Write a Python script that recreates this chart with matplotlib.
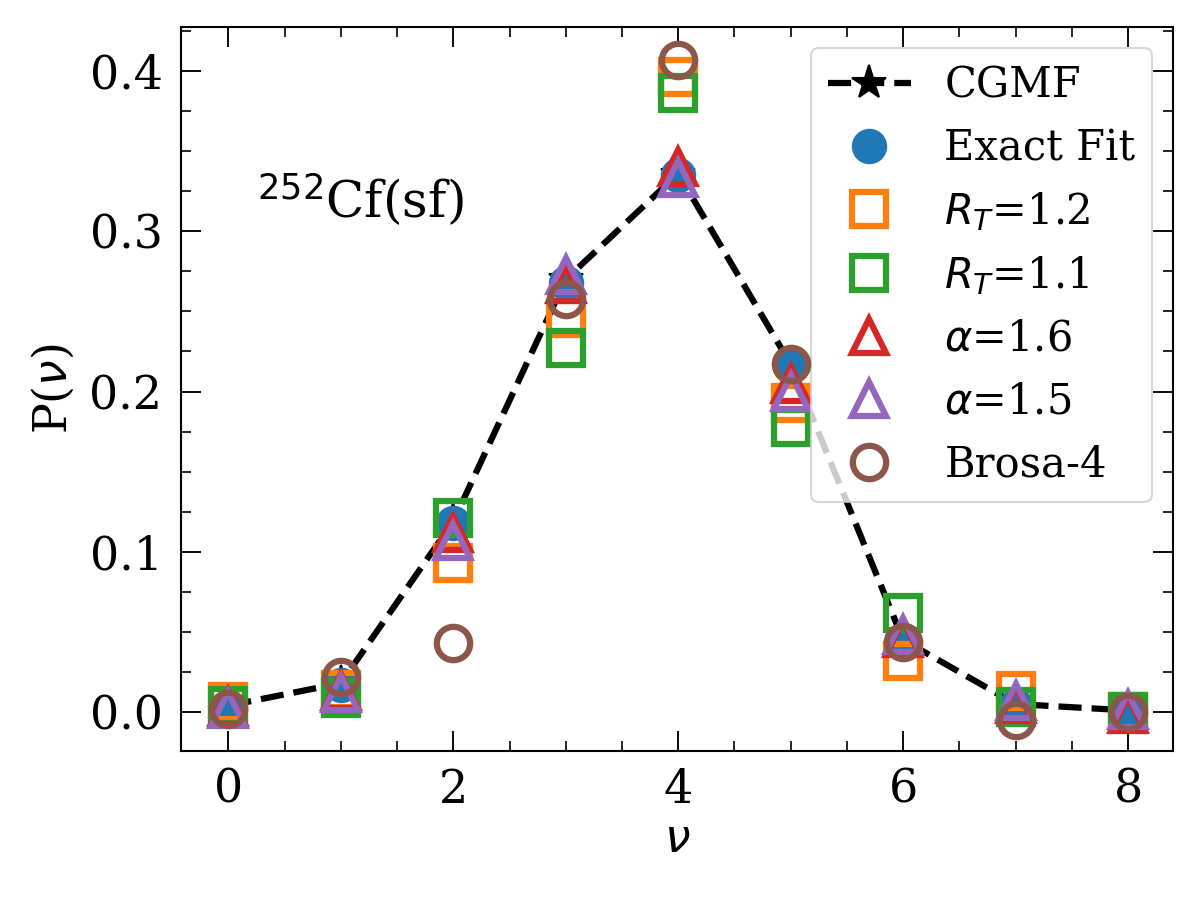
import matplotlib
matplotlib.use("Agg")
import matplotlib.pyplot as plt
import matplotlib.ticker as ticker
import numpy as np

# ── Data ─────────────────────────────────────────────────────────────────────
nu = np.arange(9)

p_cgmf   = [0.004, 0.018, 0.119, 0.270, 0.336, 0.217, 0.045, 0.005, 0.001]
p_exact  = [0.003, 0.017, 0.118, 0.268, 0.335, 0.217, 0.045, 0.004, 0.001]
p_rt12   = [0.006, 0.014, 0.093, 0.246, 0.396, 0.193, 0.032, 0.013, 0.000]
p_rt11   = [0.004, 0.009, 0.121, 0.227, 0.386, 0.178, 0.062, 0.003, 0.000]
p_a16    = [0.003, 0.013, 0.112, 0.267, 0.340, 0.205, 0.046, 0.005, -0.001]
p_a15    = [0.002, 0.012, 0.107, 0.273, 0.333, 0.200, 0.048, 0.007, 0.001]
p_brosa  = [0.002, 0.022, 0.043, 0.258, 0.407, 0.217, 0.044, -0.005, 0.000]

# ── Style ────────────────────────────────────────────────────────────────────
plt.rcParams.update({
    "font.family":       "DejaVu Serif",
    "font.size":         22,
    "mathtext.fontset":  "dejavusans",
    "xtick.direction":   "in",
    "ytick.direction":   "in",
    "xtick.top":         True,
    "ytick.right":       True,
    "xtick.major.size":  9.5,
    "ytick.major.size":  9.5,
    "xtick.minor.size":  4.8,
    "ytick.minor.size":  4.8,
    "xtick.major.width": 0.9,
    "ytick.major.width": 0.9,
    "xtick.minor.width": 0.8,
    "ytick.minor.width": 0.8,
    "axes.linewidth":    1.0,
    "xtick.major.pad":   8,
    "ytick.major.pad":   9,
})

fig, ax = plt.subplots(figsize=(8, 6), dpi=150)

MS  = 16
MEW = 3

ax.plot(nu, p_cgmf, "k--*", lw=3, ms=17, label="CGMF", zorder=2)
ax.plot(nu, p_exact, "o", color="#1f77b4", ms=MS, ls="none", label="Exact Fit", zorder=3)
ax.plot(nu, p_rt12, "s", mfc="none", mec="#ff7f0e", mew=MEW, ms=MS, ls="none",
        label=r"$R_T$=1.2", zorder=4)
ax.plot(nu, p_rt11, "s", mfc="none", mec="#2ca02c", mew=MEW, ms=MS, ls="none",
        label=r"$R_T$=1.1", zorder=4)
ax.plot(nu, p_a16, "^", mfc="none", mec="#d62728", mew=MEW, ms=MS, ls="none",
        label=r"$\alpha$=1.6", zorder=5)
ax.plot(nu, p_a15, "^", mfc="none", mec="#9467bd", mew=MEW, ms=MS, ls="none",
        label=r"$\alpha$=1.5", zorder=5)
ax.plot(nu, p_brosa, "o", mfc="none", mec="#8c564b", mew=MEW, ms=MS, ls="none",
        label="Brosa-4", zorder=6)

ax.text(0.25, 0.308, r"$^{252}$Cf(sf)", fontsize=24)

ax.set_xlim(-0.42, 8.4)
ax.set_ylim(-0.0243, 0.4275)
ax.xaxis.set_major_locator(ticker.MultipleLocator(2))
ax.xaxis.set_minor_locator(ticker.MultipleLocator(0.5))
ax.yaxis.set_major_locator(ticker.MultipleLocator(0.1))
ax.yaxis.set_minor_locator(ticker.MultipleLocator(0.025))
ax.yaxis.set_major_formatter(ticker.FormatStrFormatter("%.1f"))

ax.set_xlabel(r"$\nu$", labelpad=2)
ax.set_ylabel(r"P($\nu$)", labelpad=6)

ax.legend(loc="upper right", fontsize=20)

plt.subplots_adjust(left=0.151, right=0.9775, bottom=0.1656, top=0.97)
plt.savefig("out.png", dpi=150)
